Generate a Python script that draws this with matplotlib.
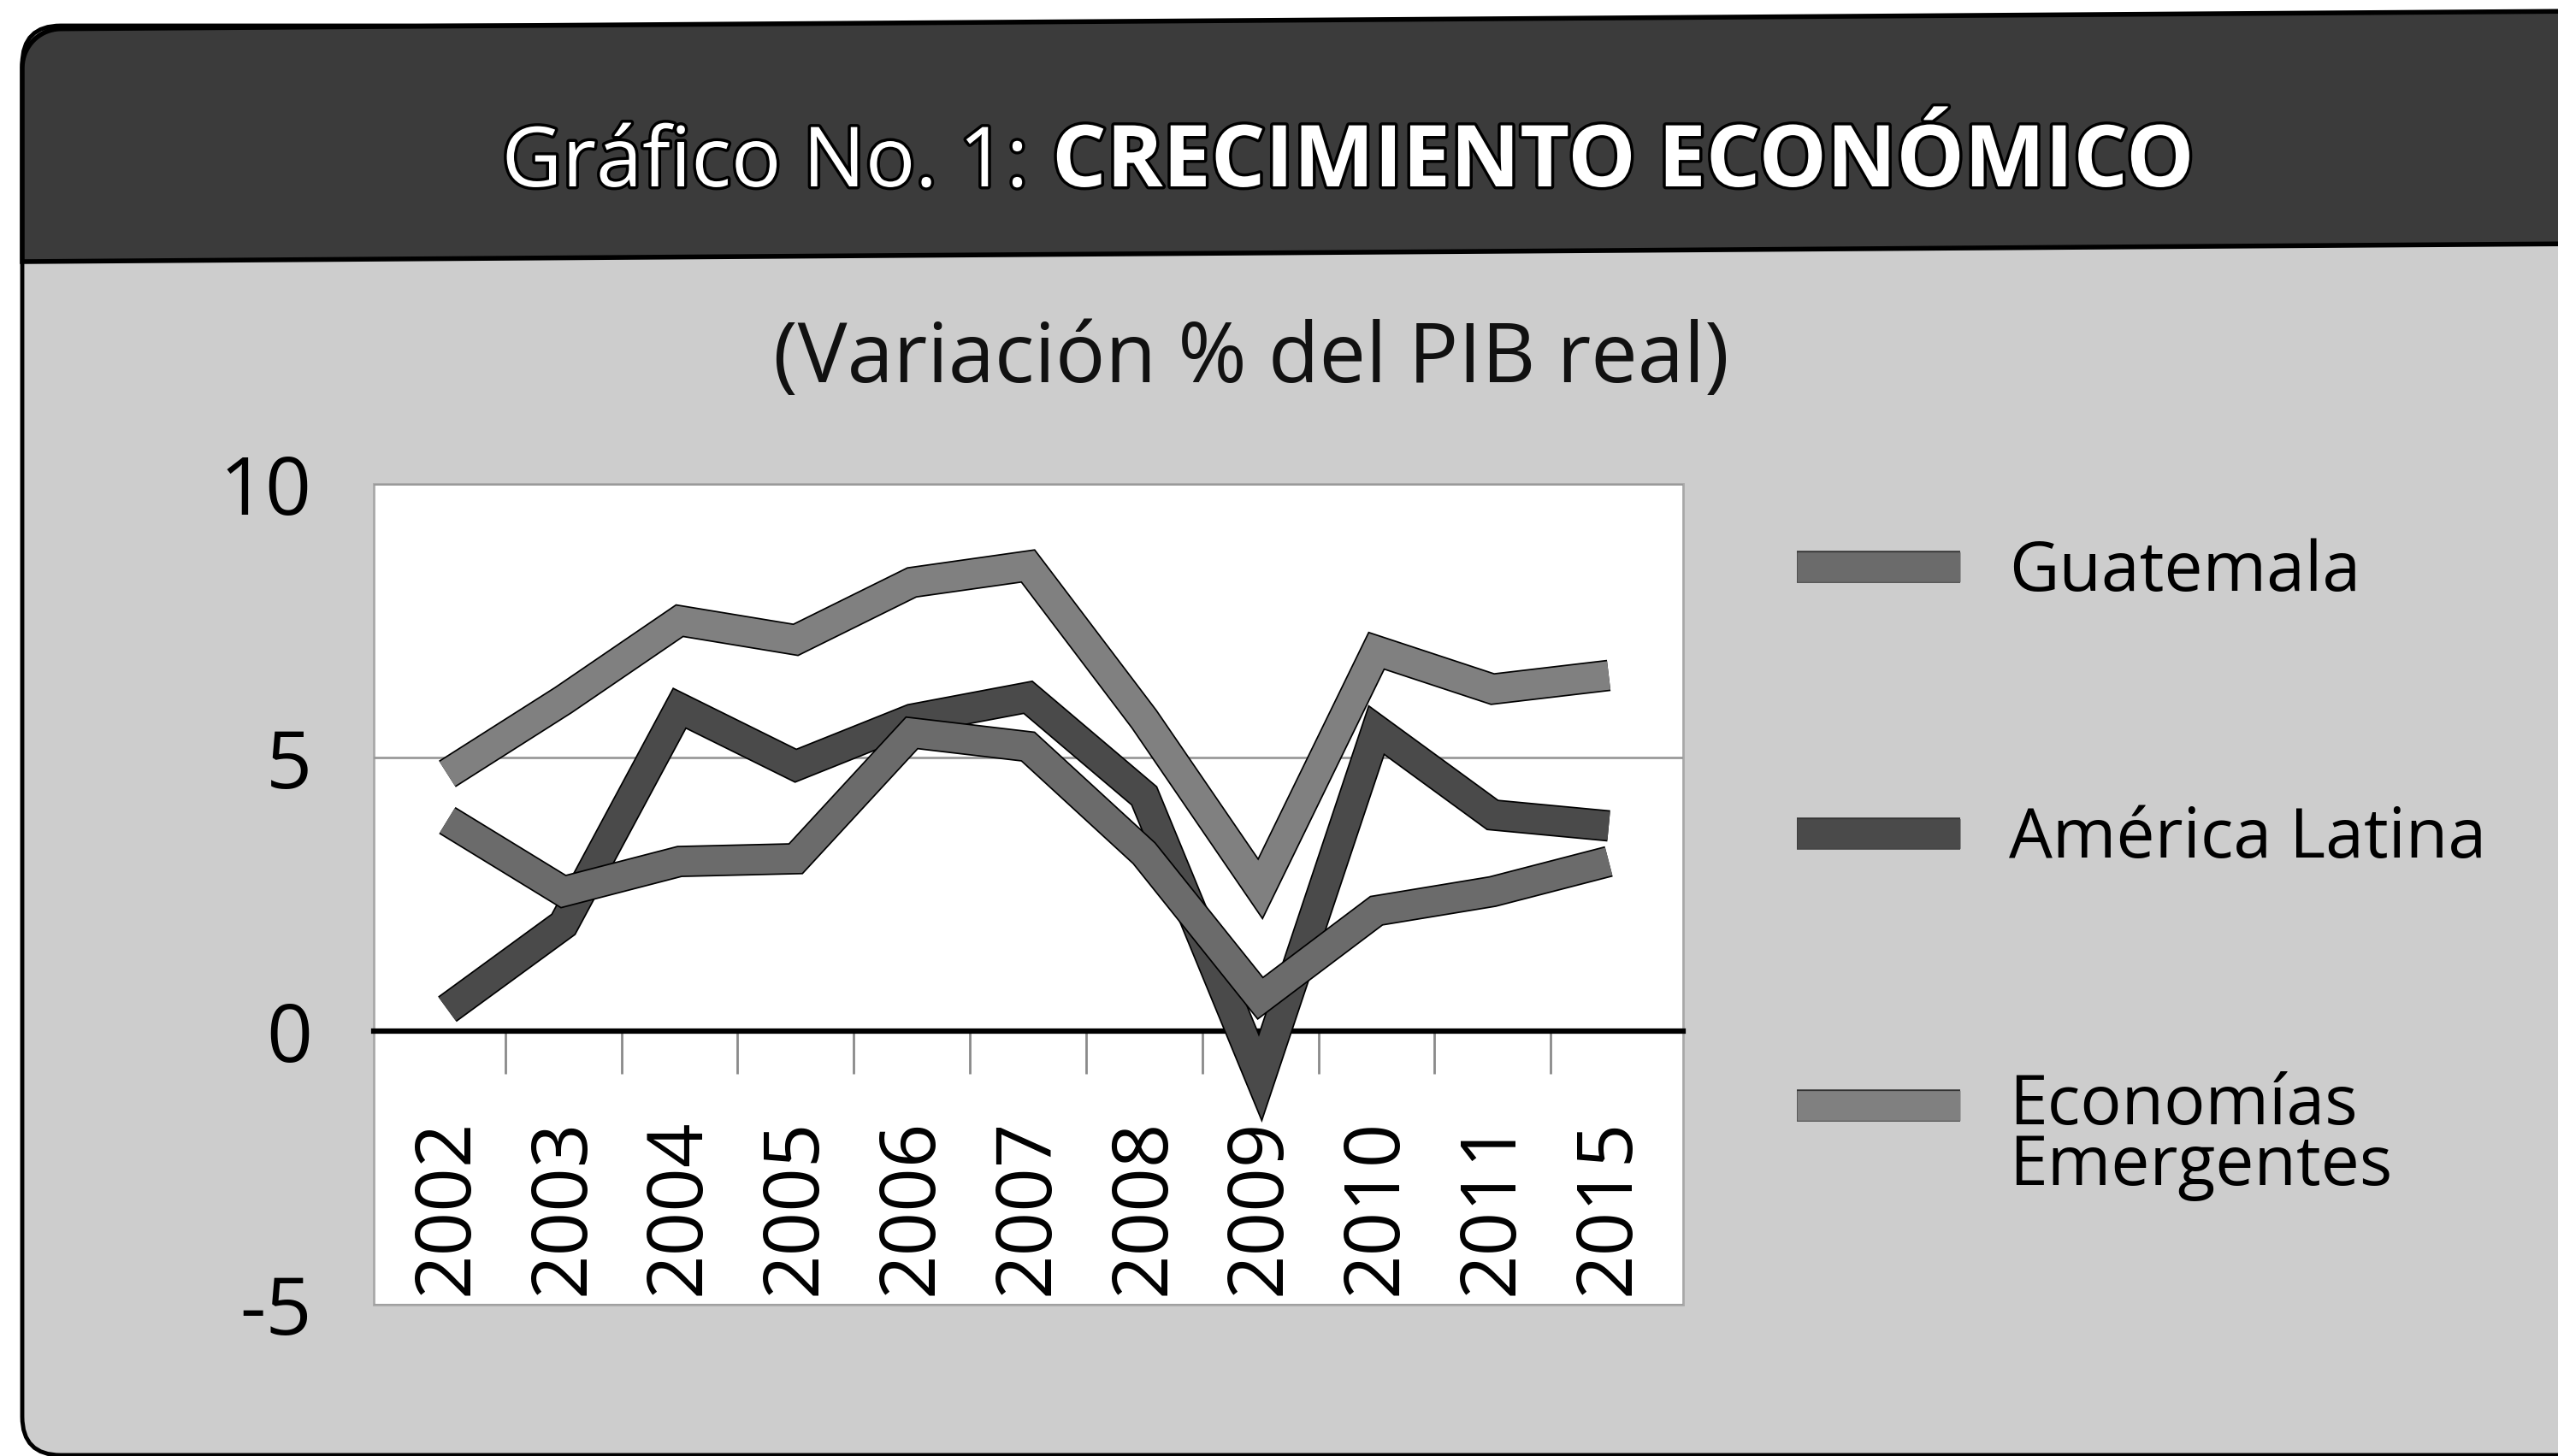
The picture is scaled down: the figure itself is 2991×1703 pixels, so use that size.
import matplotlib
matplotlib.use("Agg")
import matplotlib.pyplot as plt
from matplotlib import patheffects as pe
from matplotlib.lines import Line2D
from matplotlib.legend_handler import HandlerLine2D
from matplotlib.patches import Polygon, FancyBboxPatch
import numpy as np

# datos (variacion % del PIB real)
anios = ["2002", "2003", "2004", "2005", "2006", "2007", "2008", "2009", "2010", "2011", "2015"]
guatemala = [3.85, 2.55, 3.1, 3.15, 5.45, 5.2, 3.25, 0.6, 2.2, 2.55, 3.1]
america_latina = [0.4, 1.95, 5.9, 4.85, 5.7, 6.1, 4.3, -0.85, 5.5, 3.95, 3.75]
emergentes = [4.7, 6.05, 7.5, 7.15, 8.2, 8.5, 5.7, 2.6, 6.95, 6.25, 6.5]

nombres = ["Guatemala", "América Latina", "Economías\nEmergentes"]
colores = ["#6b6b6b", "#4a4a4a", "#808080"]

plt.rcParams["font.family"] = ["Open Sans", "DejaVu Sans"]
plt.rcParams["axes.unicode_minus"] = False


class ManijaArriba(HandlerLine2D):
    """sube la muestra de la leyenda a la altura de la primera linea del texto"""

    def __init__(self, dy, **kw):
        super().__init__(**kw)
        self.dy = dy

    def create_artists(self, legend, orig_handle, xdescent, ydescent, width, height, fontsize, trans):
        return super().create_artists(legend, orig_handle, xdescent, ydescent - 2 * self.dy,
                                      width, height, fontsize, trans)


W, H = 2991, 1703
fig = plt.figure(figsize=(W / 100, H / 100), dpi=100)
fig.patch.set_facecolor("white")

# fondo: panel gris claro con encabezado oscuro (coordenadas en pixeles)
bg = fig.add_axes([0, 0, 1, 1], zorder=0)
bg.set_xlim(0, W)
bg.set_ylim(H, 0)
bg.axis("off")
panel = FancyBboxPatch((26, 30), 3300, 1672, boxstyle="round,pad=0,rounding_size=45",
                       fc="#cdcdcd", ec="black", lw=3.5)
bg.add_patch(panel)
r = 45
t = np.linspace(np.pi, 1.5 * np.pi, 20)
arco = np.column_stack([26 + r + r * np.cos(t), 34 + r + r * np.sin(t)])
verts = np.vstack([[26, 306], arco, [3100, 34], [3100, 306]])
verts[:, 1] -= 0.007 * (verts[:, 0] - 26)  # el escaneo esta un poco inclinado
bg.add_patch(Polygon(verts, closed=True, fc="#3b3b3b", ec="black", lw=4))

# titulo
borde = [pe.withStroke(linewidth=5, foreground="black")]
fig.text(1202 / W, 1 - 218 / H, "Gráfico No. 1:", ha="right", va="baseline",
         fontsize=70, color="white", path_effects=borde)
fig.text(1230 / W, 1 - 218 / H, "CRECIMIENTO ECONÓMICO", ha="left", va="baseline",
         fontsize=72, fontweight="bold", color="white", path_effects=borde)
fig.text(1463 / W, 1 - 447 / H, "(Variación % del PIB real)", ha="center", va="baseline",
         fontsize=70, color="#111111")

# grafico
ax = fig.add_axes([437 / W, 1 - 1526 / H, (1968 - 437) / W, (1526 - 566) / H], zorder=2)
x = np.arange(len(anios))
ax.set_xlim(-0.633, 10.64)
ax.set_ylim(-5, 10)
ax.set_facecolor("white")
ax.patch.set_edgecolor("#a8a8a8")
ax.patch.set_linewidth(2)
for s in ["left", "right", "top"]:
    ax.spines[s].set_visible(False)
ax.spines["bottom"].set_position(("data", 0))
ax.spines["bottom"].set_color("black")
ax.spines["bottom"].set_linewidth(4.5)

ax.set_xticks(x)
ax.set_xticklabels(anios, rotation=90, fontsize=65)
ax.tick_params(axis="x", which="major", length=0, pad=74)
ax.set_xticks(np.arange(0.5, 10, 1.0), minor=True)
ax.tick_params(axis="x", which="minor", length=36, width=2, color="#8a8a8a", direction="out")
ax.set_yticks([-5, 0, 5, 10])
ax.tick_params(axis="y", length=0, pad=52, labelsize=68)
ax.yaxis.grid(True, color="#9a9a9a", lw=2)
ax.set_axisbelow(True)

series = [america_latina, guatemala, emergentes]
orden = [1, 0, 2]
for k, (vals, z) in enumerate(zip(series, [3, 4, 5])):
    i = orden[k]
    ax.plot(x, vals, color=colores[i], lw=24, solid_joinstyle="miter", solid_capstyle="butt",
            zorder=z, path_effects=[pe.Stroke(linewidth=26.5, foreground="black"), pe.Normal()])

# leyenda
manijas = [Line2D([], [], color=c, lw=25, solid_capstyle="butt",
                  path_effects=[pe.Stroke(linewidth=27, foreground="#333333"), pe.Normal()])
           for c in colores]
leg = ax.legend(manijas, nombres, loc="upper left", bbox_to_anchor=(2101 / W, 1 - 630 / H),
                bbox_transform=fig.transFigure, frameon=False, fontsize=58,
                handlelength=2.37, handletextpad=0.71, labelspacing=2.87,
                borderpad=0, borderaxespad=0,
                handler_map={manijas[2]: ManijaArriba(28)})
leg.get_texts()[2].set_linespacing(0.85)

fig.savefig("out.png", dpi=100)
